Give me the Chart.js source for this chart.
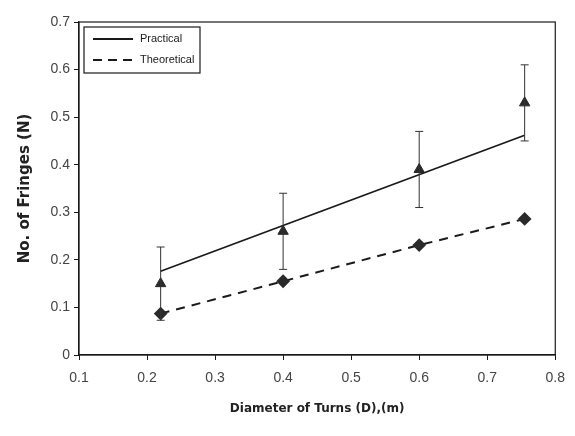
<!DOCTYPE html>
<html>
<head>
<meta charset="utf-8">
<script src="https://cdn.jsdelivr.net/npm/chart.js@4"></script>
<style>
  html, body { margin: 0; padding: 0; background: #fff; }
  #wrap { width: 575px; height: 436px; }
</style>
</head>
<body>
<div id="wrap"><canvas id="chart" width="575" height="436"></canvas></div>
<script>
// --- Data ---
const diameters = [0.22, 0.4, 0.6, 0.755];
const practical = [0.15, 0.26, 0.39, 0.53];
const practicalErr = [0.077, 0.08, 0.08, 0.08];
const theoretical = [0.087, 0.155, 0.231, 0.286];
const fitX = [0.22, 0.755];
const fitY = [0.176, 0.462];
const seriesNames = ['Practical', 'Theoretical'];

const ink = '#1a1a1a';
const narrow = "'Liberation Sans Narrow', 'Liberation Sans', Arial, sans-serif";

// error bars on the practical points
const errorBars = {
    id: 'errorBars',
    afterDatasetsDraw(chart) {
        const { ctx, scales: { x, y } } = chart;
        ctx.save();
        ctx.strokeStyle = '#333';
        ctx.lineWidth = 1;
        diameters.forEach((d, i) => {
            const px = x.getPixelForValue(d);
            const top = y.getPixelForValue(practical[i] + practicalErr[i]);
            const bot = y.getPixelForValue(practical[i] - practicalErr[i]);
            ctx.beginPath();
            ctx.moveTo(px, top); ctx.lineTo(px, bot);
            ctx.moveTo(px - 4, top); ctx.lineTo(px + 4, top);
            ctx.moveTo(px - 4, bot); ctx.lineTo(px + 4, bot);
            ctx.stroke();
        });
        ctx.restore();
    }
};

// frame round the plot area plus the boxed legend
const frameAndLegend = {
    id: 'frameAndLegend',
    afterDraw(chart) {
        const { ctx, chartArea: a } = chart;
        ctx.save();
        ctx.strokeStyle = ink;
        ctx.lineWidth = 1.2;
        ctx.strokeRect(a.left, a.top, a.right - a.left, a.bottom - a.top);

        const bx = a.left + 5, by = a.top + 5, bw = 116, bh = 46;
        ctx.strokeRect(bx, by, bw, bh);
        ctx.font = '11px ' + narrow;
        ctx.fillStyle = ink;
        ctx.textBaseline = 'middle';
        const rows = [{ dash: [], y: by + 12 }, { dash: [9, 6], y: by + 33 }];
        rows.forEach((r, i) => {
            ctx.beginPath();
            ctx.setLineDash(r.dash);
            ctx.lineWidth = 1.8;
            ctx.moveTo(bx + 9, r.y);
            ctx.lineTo(bx + 49, r.y);
            ctx.stroke();
            ctx.setLineDash([]);
            ctx.fillText(seriesNames[i], bx + 56, r.y);
        });
        ctx.restore();
    }
};

new Chart(document.getElementById('chart'), {
    type: 'scatter',
    data: {
        datasets: [
            {
                label: seriesNames[0] + ' fit',
                data: fitX.map((v, i) => ({ x: v, y: fitY[i] })),
                showLine: true,
                borderColor: ink,
                borderWidth: 1.8,
                pointRadius: 0
            },
            {
                label: seriesNames[0],
                data: diameters.map((v, i) => ({ x: v, y: practical[i] })),
                showLine: false,
                pointStyle: 'triangle',
                pointRadius: 6,
                backgroundColor: '#2a2a2a',
                borderColor: '#2a2a2a'
            },
            {
                label: seriesNames[1],
                data: diameters.map((v, i) => ({ x: v, y: theoretical[i] })),
                showLine: true,
                borderColor: ink,
                borderWidth: 2,
                borderDash: [9, 7],
                pointStyle: 'rectRot',
                pointRadius: 5.5,
                backgroundColor: '#2a2a2a',
                pointBorderColor: '#2a2a2a'
            }
        ]
    },
    options: {
        responsive: false,
        animation: false,
        layout: { padding: { left: 0, top: 22, right: 18, bottom: 0 } },
        plugins: {
            legend: { display: false },
            tooltip: { enabled: false }
        },
        scales: {
            x: {
                type: 'linear',
                min: 0.1,
                max: 0.8,
                afterFit: s => { s.height = 81; },
                border: { color: ink, width: 1.2 },
                grid: { drawOnChartArea: false, tickLength: 5, color: ink },
                ticks: {
                    stepSize: 0.1,
                    color: '#444',
                    font: { family: narrow, size: 14 },
                    padding: 10,
                    callback: v => Number(v.toFixed(1)).toString()
                },
                title: {
                    display: true,
                    text: 'Diameter of Turns (D),(m)',
                    color: '#222',
                    font: { family: "'DejaVu Sans', sans-serif", size: 12, weight: 'bold' },
                    padding: { top: 0, bottom: 20 }
                }
            },
            y: {
                type: 'linear',
                min: 0,
                max: 0.7,
                afterFit: s => { s.width = 79; },
                border: { color: ink, width: 1.2 },
                grid: { drawOnChartArea: false, tickLength: 5, color: ink },
                ticks: {
                    stepSize: 0.1,
                    color: '#444',
                    font: { family: narrow, size: 14 },
                    padding: 4,
                    callback: v => Number(v.toFixed(1)).toString()
                },
                title: {
                    display: true,
                    text: 'No. of Fringes (N)',
                    color: '#222',
                    font: { family: "'DejaVu Sans', sans-serif", size: 15, weight: 'bold' },
                    padding: { top: 16, bottom: 0 }
                }
            }
        }
    },
    plugins: [errorBars, frameAndLegend]
});
</script>
</body>
</html>
